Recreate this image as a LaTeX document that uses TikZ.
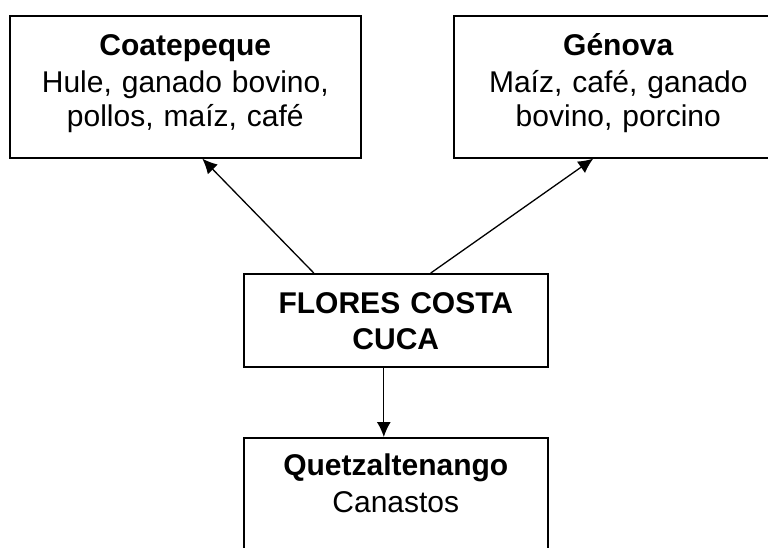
\documentclass[tikz,border=0pt]{standalone}
\usepackage{fontspec}
\setmainfont{Liberation Sans}
\usetikzlibrary{arrows.meta}

\newcommand{\topgap}[1][40pt]{\rule{0pt}{#1}}
\newcommand{\botgap}[1]{\rule[-#1]{0pt}{#1}}

\begin{document}
\begin{tikzpicture}[x = 1pt, y = -1pt, > = {Latex[length = 15pt, width = 14pt]},
	box/.style = {draw, line width = 1.6pt, text width = #1, align = center, inner sep = 0pt,
		anchor = north west, font = \fontsize{30}{34}\selectfont}]

	% Page frame
	\useasboundingbox (0, 0) rectangle (768, 548);
	\clip (0, 0) rectangle (768, 548);

	% The places
	\node [box = 351pt] (coatepeque) at (9, 15) {\topgap\textbf{Coatepeque}\\[3pt] Hule, ganado bovino,\\ pollos, maíz, café\botgap{31pt}};
	\node [box = 329pt] (genova) at (453, 15) {\topgap\textbf{Génova}\\[3pt] Maíz, café, ganado\\ bovino, porcino\botgap{31pt}};
	\node [box = 304pt] (flores) at (243, 273) {\topgap\textbf{FLORES COSTA}\\[2pt] \textbf{CUCA}\botgap{17pt}};
	\node [box = 304pt] (quetzaltenango) at (243, 437) {\topgap[38pt]\textbf{Quetzaltenango}\\[3pt] Canastos\botgap{80pt}};

	% Where the goods go
	\begin{scope}[->, line width = 1.3pt]
		\draw ([xshift = -82pt] flores.north) -- ([xshift = 17pt] coatepeque.south);
		\draw ([xshift = 35pt] flores.north) -- ([xshift = -25pt] genova.south);
		\draw ([xshift = -12pt] flores.south) -- ([xshift = -12pt] quetzaltenango.north);
	\end{scope}

\end{tikzpicture}
\end{document}
